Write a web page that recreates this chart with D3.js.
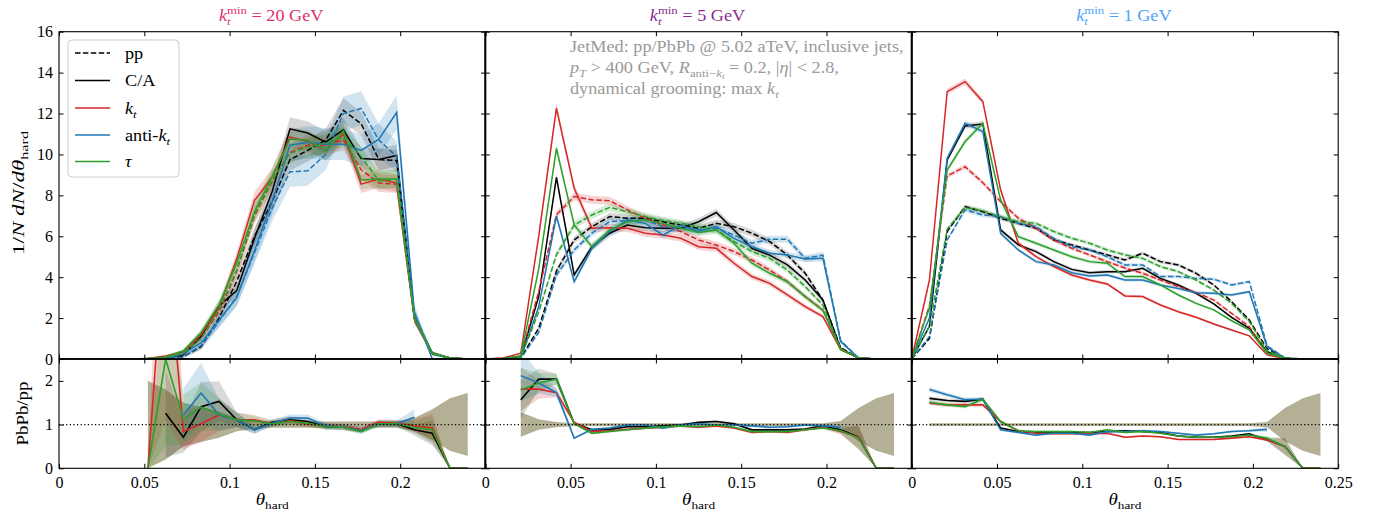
<!DOCTYPE html>
<html>
<head>
<meta charset="utf-8">
<script src="https://cdn.jsdelivr.net/npm/d3@7"></script>
<style>
  body { margin: 0; background: #fff; }
  text { font-family: "Liberation Serif", "Times New Roman", serif; white-space: pre; }
</style>
</head>
<body>
<svg id="chart" width="1378" height="517"></svg>
<script>
// bin positions in theta_hard
const theta = [0, 0.0104, 0.0208, 0.0313, 0.0417, 0.0521, 0.0625, 0.0729, 0.0833, 0.0938, 0.1042, 0.1146, 0.125,
  0.1354, 0.1458, 0.1563, 0.1667, 0.1771, 0.1875, 0.1979, 0.2083, 0.2188, 0.2292, 0.2396, 0.25];

const algoNames = ["C/A", "k_t", "anti-k_t", "tau"];
const algoColors = ["#000000", "#d62728", "#1f77b4", "#2ca02c"];
const ktMinLabels = ["20", "5", "1"];
const ktMinColors = ["#e0306a", "#8b2a90", "#4da3f7"];
const xTicks = [0, 0.05, 0.1, 0.15, 0.2, 0.25];
const yTicksTop = [0, 2, 4, 6, 8, 10, 12, 14, 16];
const yTicksRatio = [0, 1, 2];

// ---- k_t^min = 20 GeV : distributions ----
const CA_pp_20   = [0,0,0,0,0,0.01,0.03,0.12,0.6,2.0,3.8,6.0,7.7,9.75,10.2,10.7,12.15,11.5,9.75,9.7,2.0,0.28,0.05,0,0];
const CA_PbPb_20 = [0,0,0,0,0,0.02,0.05,0.2,1.1,2.6,3.35,5.9,8.2,11.25,11.05,10.6,11.2,9.8,9.75,9.95,2.0,0.28,0.05,0,0];
const kt_pp_20   = [0,0,0,0,0,0.01,0.03,0.3,1.0,2.3,4.3,7.0,8.7,10.1,10.45,10.45,10.7,9.25,8.6,8.55,1.95,0.28,0.05,0,0];
const kt_PbPb_20 = [0,0,0,0,0,0.03,0.15,0.35,1.2,2.5,4.9,7.75,8.9,10.85,10.65,10.2,11.0,8.55,8.8,8.6,1.95,0.28,0.05,0,0];
const akt_pp_20  = [0,0,0,0,0,0.01,0.02,0.1,0.65,1.85,3.05,5.2,7.4,9.15,9.2,10.0,12.0,12.25,10.7,9.9,2.2,0.25,0.05,0,0];
const akt_PbPb_20= [0,0,0,0,0,0.01,0.03,0.25,0.8,1.9,3.0,5.3,7.7,10.45,10.6,10.5,10.5,10.2,10.75,12.05,2.3,0,0,0,0];
const tau_pp_20  = [0,0,0,0,0,0.01,0.05,0.3,1.0,2.4,4.35,7.1,8.75,10.05,10.35,10.55,10.85,9.9,8.7,8.8,2.0,0.28,0.05,0,0];
const tau_PbPb_20= [0,0,0,0,0,0.02,0.1,0.4,1.3,2.65,4.7,7.2,8.9,10.75,10.7,10.2,11.15,8.75,8.8,8.8,2.0,0.28,0.05,0,0];

// ---- k_t^min = 5 GeV ----
const CA_pp_5    = [0,0,0.06,1.5,4.3,5.82,6.47,6.96,6.88,6.88,6.71,6.55,6.39,6.63,6.47,6.15,5.74,5.08,4.19,2.88,0.55,0.05,0,0,0];
const CA_PbPb_5  = [0,0,0.1,3.05,8.88,4.11,5.49,6.15,6.55,6.42,6.39,6.39,6.71,7.16,6.31,5.41,5.08,4.6,3.86,2.88,0.5,0.05,0,0,0];
const kt_pp_5    = [0,0.03,0.15,3.3,7.05,7.94,7.78,7.74,7.29,6.88,6.55,6.23,5.82,5.57,5.25,4.84,4.35,3.78,3.05,2.4,0.5,0.05,0,0,0];
const kt_PbPb_5  = [0,0.05,0.28,6.0,12.26,8.35,6.39,6.42,6.39,6.15,6.06,5.9,5.49,5.41,4.68,4.03,3.7,3.13,2.56,2.07,0.45,0.05,0,0,0];
const akt_pp_5   = [0,0.01,0.03,1.3,4.1,5.33,6.15,6.71,6.77,6.8,6.47,6.39,6.31,6.39,6.06,5.66,5.85,5.85,4.92,5.08,0.9,0.05,0,0,0];
const akt_PbPb_5 = [0,0.01,0.05,2.56,6.99,3.78,5.41,6.23,6.8,6.63,6.06,6.55,6.23,6.47,5.9,5.49,5.17,5.08,4.89,4.92,0.85,0.05,0,0,0];
const tau_pp_5   = [0,0.01,0.08,2.3,5.1,6.55,7.04,7.41,7.2,6.96,6.77,6.63,6.47,6.31,5.74,5.25,4.92,4.35,3.54,2.64,0.5,0.05,0,0,0];
const tau_PbPb_5 = [0,0.02,0.15,4.4,10.3,6.55,5.49,6.31,6.71,6.8,6.63,6.39,6.18,6.31,5.66,4.68,4.19,3.78,3.05,2.37,0.45,0.05,0,0,0];

// ---- k_t^min = 1 GeV ----
const CA_pp_1    = [0,1.0,6.23,7.45,7.2,6.88,6.63,6.39,5.82,5.58,5.33,5.09,4.84,5.17,4.76,4.6,4.19,3.62,2.8,1.91,0.5,0.05,0,0,0];
const CA_PbPb_1  = [0,1.6,9.73,11.39,11.49,6.31,5.58,5.25,4.76,4.38,4.22,4.27,4.27,4.43,3.94,3.62,3.21,2.69,2.04,1.5,0.36,0.03,0,0,0];
const kt_pp_1    = [0,2.6,8.95,9.4,8.62,7.7,6.88,6.4,5.82,5.41,5.09,4.76,4.45,4.19,3.86,3.54,3.25,2.88,2.23,1.58,0.3,0.03,0,0,0];
const kt_PbPb_1  = [0,3.86,13.07,13.56,12.58,8.27,5.66,5.0,4.52,4.11,3.86,3.67,3.08,3.05,2.64,2.31,2.04,1.71,1.42,1.13,0.2,0.02,0,0,0];
const akt_pp_1   = [0,1.1,5.82,7.29,7.04,6.96,6.63,6.47,5.9,5.49,5.33,5.0,4.6,4.6,4.03,4.03,3.94,3.9,3.62,3.78,0.65,0.05,0,0,0];
const akt_PbPb_1 = [0,2.0,9.81,11.52,11.12,6.14,5.33,4.76,4.6,4.22,4.06,4.11,3.86,3.86,3.62,3.45,3.24,3.21,3.13,3.29,0.6,0.03,0,0,0];
const tau_pp_1   = [0,1.6,6.35,7.4,7.25,6.96,6.72,6.63,6.23,5.9,5.66,5.33,5.09,4.92,4.52,4.27,3.86,3.37,2.72,1.83,0.4,0.05,0,0,0];
const tau_PbPb_1 = [0,2.5,9.24,10.63,11.52,7.78,5.98,5.66,5.33,5.0,4.76,4.68,4.03,4.03,3.62,3.13,2.72,2.4,1.87,1.42,0.28,0.03,0,0,0];

// ---- PbPb/pp ratios ----
const N = null;
const CA_ratio_20  = [N,N,N,N,N,N,1.26,0.71,1.41,1.53,1.11,0.88,1.05,1.11,1.07,0.95,0.94,0.88,1.02,1.02,0.88,0.80,0,0,N];
const kt_ratio_20  = [N,N,N,N,N,0,5.5,0.84,1.02,1.22,1.11,1.11,1.02,1.09,1.01,0.97,0.95,0.88,1.05,1.03,0.97,0.92,0,0,N];
const akt_ratio_20 = [N,N,N,N,N,N,N,1.22,1.72,1.22,1.11,0.88,1.03,1.15,1.15,0.97,0.94,0.86,1.02,1.02,1.17,N,N,N,N];
const tau_ratio_20 = [N,N,N,N,N,0,2.5,1.12,1.4,1.24,1.11,1.08,1.02,1.07,1.03,0.95,0.94,0.84,1.02,1.02,0.94,0.88,0,0,N];

const CA_ratio_5  = [N,N,1.57,2.04,2.04,1.03,0.88,0.89,0.95,0.95,0.97,0.99,1.05,1.07,1.02,0.88,0.88,0.88,0.9,0.97,0.88,0.71,0,0,N];
const kt_ratio_5  = [N,N,1.81,1.81,1.73,1.05,0.84,0.86,0.89,0.92,0.94,0.97,0.94,0.97,0.92,0.82,0.84,0.82,0.88,0.94,0.84,0.71,0,0,N];
const akt_ratio_5 = [N,N,2.12,1.95,1.73,0.69,0.89,0.92,0.99,0.99,0.92,0.99,1.02,0.99,0.99,0.97,0.94,0.95,0.99,0.97,0.94,N,N,N,N];
const tau_ratio_5 = [N,N,1.79,1.95,2.04,1.02,0.8,0.84,0.88,0.92,0.95,0.97,0.95,0.99,0.94,0.84,0.84,0.84,0.88,0.92,0.86,0.69,0,0,N];

const CA_ratio_1  = [N,1.6,1.55,1.53,1.58,0.92,0.84,0.82,0.82,0.82,0.82,0.84,0.86,0.84,0.82,0.74,0.71,0.71,0.74,0.79,0.65,0.5,0,0,N];
const kt_ratio_1  = [N,1.49,1.45,1.45,1.45,1.07,0.86,0.8,0.79,0.79,0.79,0.8,0.71,0.74,0.72,0.66,0.66,0.66,0.69,0.72,0.65,0.5,0,0,N];
const akt_ratio_1 = [N,1.8,1.68,1.57,1.58,0.88,0.82,0.76,0.8,0.8,0.76,0.84,0.84,0.86,0.84,0.8,0.76,0.79,0.84,0.86,0.89,N,N,N,N];
const tau_ratio_1 = [N,1.51,1.45,1.41,1.58,1.07,0.86,0.84,0.84,0.84,0.82,0.88,0.82,0.84,0.8,0.74,0.71,0.71,0.72,0.76,0.69,0.5,0,0,N];

// relative statistical uncertainty of pp (half-width of band around 1)
const ppBand_20 = [N,N,N,N,N,1.0,0.8,0.5,0.4,0.3,0.15,0.1,0.07,0.07,0.07,0.07,0.07,0.07,0.07,0.07,0.15,0.35,0.6,0.72,N];
const ppBand_5  = [N,N,0.28,0.12,0.06,0.03,0.03,0.03,0.03,0.03,0.03,0.03,0.03,0.03,0.03,0.03,0.03,0.03,0.03,0.03,0.08,0.38,0.6,0.72,N];
const ppBand_1  = [N,0.03,0.03,0.03,0.03,0.03,0.03,0.03,0.03,0.03,0.03,0.03,0.03,0.03,0.03,0.03,0.03,0.03,0.03,0.03,0.06,0.38,0.6,0.72,N];

// statistical error scale for the distributions (half-width = scale * sqrt(value)), per algorithm
const errScale_20 = [0.17, 0.15, 0.24, 0.15];
const errScale_5  = [0.07, 0.07, 0.07, 0.07];
const errScale_1  = [0.04, 0.04, 0.04, 0.04];

const panels = [
  { pp: [CA_pp_20, kt_pp_20, akt_pp_20, tau_pp_20], PbPb: [CA_PbPb_20, kt_PbPb_20, akt_PbPb_20, tau_PbPb_20],
    ratio: [CA_ratio_20, kt_ratio_20, akt_ratio_20, tau_ratio_20], band: ppBand_20, err: errScale_20 },
  { pp: [CA_pp_5, kt_pp_5, akt_pp_5, tau_pp_5], PbPb: [CA_PbPb_5, kt_PbPb_5, akt_PbPb_5, tau_PbPb_5],
    ratio: [CA_ratio_5, kt_ratio_5, akt_ratio_5, tau_ratio_5], band: ppBand_5, err: errScale_5 },
  { pp: [CA_pp_1, kt_pp_1, akt_pp_1, tau_pp_1], PbPb: [CA_PbPb_1, kt_PbPb_1, akt_PbPb_1, tau_PbPb_1],
    ratio: [CA_ratio_1, kt_ratio_1, akt_ratio_1, tau_ratio_1], band: ppBand_1, err: errScale_1 }
];

// ---------------- layout ----------------
const svg = d3.select("#chart");
const FS = 16;
const SX = 1.14;           // horizontal stretch for the serif labels
const X0 = [59, 485.3, 911.7];
const W = 426.5;
const TOP = [31.7, 359];
const RAT = [359, 468.3];
const defs = svg.append("defs");

// rich text: runs of plain/italic text with sub/superscripts; optional target width
function rich(parent, runs, fs, color, targetWidth) {
  const outer = parent.append("g");
  const g = outer.append("g");
  let cx = 0, lastStart = 0;
  runs.forEach(r => {
    if (r.gap) { cx += r.gap; return; }
    let size = fs, dy = 0;
    if (r.pos === "sub") { size = fs * 0.7; dy = fs * 0.25; }
    if (r.pos === "sup") { size = fs * 0.7; dy = -fs * 0.42; }
    if (r.pos === "subsub") { size = fs * 0.5; dy = fs * 0.38; }
    const sx = r.stack ? lastStart : cx;
    const t = g.append("text").attr("x", sx).attr("y", dy)
      .attr("font-size", size).attr("font-style", r.it ? "italic" : "normal")
      .attr("fill", color).text(r.t);
    const w = t.node().getComputedTextLength();
    cx = r.stack ? Math.max(cx, sx + w) : sx + w;
    lastStart = sx;
  });
  const s = targetWidth ? targetWidth / cx : SX;
  g.attr("transform", `scale(${s},1)`);
  return { g: outer, width: cx * s };
}

function sty(sel) {
  sel.attr("font-family", null).attr("font-size", null);
  sel.select(".domain").remove();
  sel.selectAll("line").attr("stroke", "#000").attr("stroke-width", 1);
  sel.selectAll("text").attr("font-size", FS).attr("fill", "#000");
}

const fmtX = (k) => d => (k < 2 && d === 0.25) ? "" : String(+d.toFixed(2));

panels.forEach((p, k) => {
  const x = d3.scaleLinear().domain([0, 0.25]).range([X0[k], X0[k] + W]);
  const yT = d3.scaleLinear().domain([0, 16]).range([TOP[1], TOP[0]]);
  const yR = d3.scaleLinear().domain([0, 2.5]).range([RAT[1], RAT[0]]);

  defs.append("clipPath").attr("id", "clipT" + k).append("rect")
    .attr("x", X0[k]).attr("y", TOP[0]).attr("width", W).attr("height", TOP[1] - TOP[0]);
  defs.append("clipPath").attr("id", "clipR" + k).append("rect")
    .attr("x", X0[k]).attr("y", RAT[0]).attr("width", W).attr("height", RAT[1] - RAT[0]);

  // ---- main distributions ----
  const gT = svg.append("g").attr("clip-path", `url(#clipT${k})`);
  const bandOf = (j) => d3.area()
    .x((d, i) => x(theta[i]))
    .y0(d => yT(d - p.err[j] * Math.sqrt(d)))
    .y1(d => yT(d + p.err[j] * Math.sqrt(d)));
  p.pp.forEach((vals, j) => {
    [vals, p.PbPb[j]].forEach(v => {
      gT.append("path").datum(v).attr("d", bandOf(j))
        .attr("fill", algoColors[j]).attr("fill-opacity", j === 0 ? 0.16 : 0.2).attr("stroke", "none");
    });
  });
  const lineT = d3.line().x((d, i) => x(theta[i])).y(d => yT(d));
  p.pp.forEach((vals, j) => {
    gT.append("path").datum(vals).attr("d", lineT).attr("fill", "none")
      .attr("stroke", algoColors[j]).attr("stroke-width", 1.5).attr("stroke-dasharray", "5.5,2.4");
    gT.append("path").datum(p.PbPb[j]).attr("d", lineT).attr("fill", "none")
      .attr("stroke", algoColors[j]).attr("stroke-width", 1.5);
  });

  // ---- ratios ----
  const gR = svg.append("g").attr("clip-path", `url(#clipR${k})`);
  const ppArea = d3.area().defined(d => d != null)
    .x((d, i) => x(theta[i])).y0(d => yR(1 - d)).y1(d => yR(1 + d));
  gR.append("path").datum(p.band).attr("d", ppArea)
    .attr("fill", "#9a9572").attr("fill-opacity", 0.75);
  p.ratio.forEach((r, j) => {
    const a = d3.area().defined((d, i) => d != null && p.band[i] != null)
      .x((d, i) => x(theta[i]))
      .y0((d, i) => yR(d - p.band[i] * d)).y1((d, i) => yR(d + p.band[i] * d));
    gR.append("path").datum(r).attr("d", a)
      .attr("fill", algoColors[j]).attr("fill-opacity", j === 0 ? 0.15 : 0.2);
  });
  const lineR = d3.line().defined(d => d != null).x((d, i) => x(theta[i])).y(d => yR(d));
  p.ratio.forEach((r, j) => {
    gR.append("path").datum(r).attr("d", lineR).attr("fill", "none")
      .attr("stroke", algoColors[j]).attr("stroke-width", 1.6);
  });
  svg.append("line").attr("x1", X0[k]).attr("x2", X0[k] + W).attr("y1", yR(1)).attr("y2", yR(1))
    .attr("stroke", "#000").attr("stroke-width", 1.1).attr("stroke-dasharray", "1.2,2.4");

  // ---- axes (inward ticks on all sides) ----
  const tk = -4.5;
  svg.append("g").attr("transform", `translate(0,${TOP[1]})`)
    .call(d3.axisBottom(x).tickValues(xTicks).tickSize(tk).tickSizeOuter(0).tickFormat("")).call(sty);
  svg.append("g").attr("transform", `translate(0,${TOP[0]})`)
    .call(d3.axisTop(x).tickValues(xTicks).tickSize(tk).tickSizeOuter(0).tickFormat("")).call(sty);
  svg.append("g").attr("transform", `translate(0,${RAT[0]})`)
    .call(d3.axisTop(x).tickValues(xTicks).tickSize(tk).tickSizeOuter(0).tickFormat("")).call(sty);
  svg.append("g").attr("transform", `translate(0,${RAT[1]})`)
    .call(d3.axisBottom(x).tickValues(xTicks).tickSize(tk).tickSizeOuter(0).tickPadding(8).tickFormat(fmtX(k))).call(sty);

  svg.append("g").attr("transform", `translate(${X0[k]},0)`)
    .call(d3.axisLeft(yT).tickValues(yTicksTop).tickSize(tk).tickSizeOuter(0).tickPadding(6)
      .tickFormat(k === 0 ? d3.format("d") : "")).call(sty);
  svg.append("g").attr("transform", `translate(${X0[k] + W},0)`)
    .call(d3.axisRight(yT).tickValues(yTicksTop).tickSize(tk).tickSizeOuter(0).tickFormat("")).call(sty);
  svg.append("g").attr("transform", `translate(${X0[k]},0)`)
    .call(d3.axisLeft(yR).tickValues(yTicksRatio).tickSize(tk).tickSizeOuter(0).tickPadding(6)
      .tickFormat(k === 0 ? d3.format("d") : "")).call(sty);
  svg.append("g").attr("transform", `translate(${X0[k] + W},0)`)
    .call(d3.axisRight(yR).tickValues(yTicksRatio).tickSize(tk).tickSizeOuter(0).tickFormat("")).call(sty);

  // frames
  svg.append("rect").attr("x", X0[k]).attr("y", TOP[0]).attr("width", W).attr("height", TOP[1] - TOP[0])
    .attr("fill", "none").attr("stroke", "#000").attr("stroke-width", 1.1);
  svg.append("rect").attr("x", X0[k]).attr("y", RAT[0]).attr("width", W).attr("height", RAT[1] - RAT[0])
    .attr("fill", "none").attr("stroke", "#000").attr("stroke-width", 1.1);

  // panel title
  const tt = rich(svg, [{ t: "k", it: 1 }, { t: "t", it: 1, pos: "sub" }, { t: "min", pos: "sup", stack: 1 },
    { gap: 4 }, { t: "= " + ktMinLabels[k] + " GeV" }], FS, ktMinColors[k]);
  tt.g.attr("transform", `translate(${X0[k] + W / 2 - tt.width / 2 - 1},21)`);

  // x label
  const xl = rich(svg, [{ t: "θ", it: 1 }, { t: "hard", pos: "sub" }], FS, "#000", 33);
  xl.g.attr("transform", `translate(${X0[k] + W / 2 - xl.width / 2},505)`);
});

// shared inner spines
[X0[1], X0[2]].forEach(xx => {
  svg.append("line").attr("x1", xx).attr("x2", xx).attr("y1", TOP[0]).attr("y2", RAT[1])
    .attr("stroke", "#000").attr("stroke-width", 2);
});
svg.append("line").attr("x1", X0[0]).attr("x2", X0[2] + W).attr("y1", TOP[1]).attr("y2", TOP[1])
  .attr("stroke", "#000").attr("stroke-width", 1.4);

// y labels
const yl = rich(svg, [{ t: "1/" }, { t: "N", it: 1 }, { gap: 4 }, { t: "dN", it: 1 }, { t: "/" }, { t: "dθ", it: 1 },
  { t: "hard", pos: "sub" }], FS, "#000", 124);
yl.g.attr("transform", `translate(24,${193 + yl.width / 2}) rotate(-90)`);
const yl2 = rich(svg, [{ t: "PbPb/pp" }], FS, "#000", 64);
yl2.g.attr("transform", `translate(28,${413.5 + yl2.width / 2}) rotate(-90)`);

// legend
const lg = svg.append("g");
lg.append("rect").attr("x", 68).attr("y", 40).attr("width", 111).attr("height", 137).attr("rx", 4)
  .attr("fill", "#fff").attr("fill-opacity", 0.85).attr("stroke", "#cccccc").attr("stroke-width", 1);
const legendRows = [
  { color: "#000", dash: "5.5,2.4", runs: [{ t: "pp" }] },
  { color: algoColors[0], runs: [{ t: algoNames[0] }] },
  { color: algoColors[1], runs: [{ t: "k", it: 1 }, { t: "t", it: 1, pos: "sub" }] },
  { color: algoColors[2], runs: [{ t: "anti-" }, { t: "k", it: 1 }, { t: "t", it: 1, pos: "sub" }] },
  { color: algoColors[3], runs: [{ t: "τ", it: 1 }] }
];
const rowY = [53, 80.5, 108, 135, 161.5];
legendRows.forEach((r, i) => {
  lg.append("line").attr("x1", 75).attr("x2", 110).attr("y1", rowY[i]).attr("y2", rowY[i])
    .attr("stroke", r.color).attr("stroke-width", 1.5).attr("stroke-dasharray", r.dash || null);
  const t = rich(lg, r.runs, FS, "#000");
  t.g.attr("transform", `translate(125,${rowY[i] + 5.5})`);
});

// annotation
const annColor = "#9a9a9a";
const a1 = rich(svg, [{ t: "JetMed: pp/PbPb @ 5.02 aTeV, inclusive jets," }], FS, annColor);
a1.g.attr("transform", "translate(570,52)");
const a2 = rich(svg, [{ t: "p", it: 1 }, { t: "T", it: 1, pos: "sub" }, { t: " > 400 GeV, " }, { t: "R", it: 1 },
  { t: "anti−", pos: "sub" }, { t: "k", it: 1, pos: "sub" }, { t: "t", it: 1, pos: "subsub" },
  { t: " = 0.2, |" }, { t: "η", it: 1 }, { t: "| < 2.8," }], FS, annColor);
a2.g.attr("transform", "translate(570,73)");
const a3 = rich(svg, [{ t: "dynamical grooming: max " }, { t: "k", it: 1 }, { t: "t", it: 1, pos: "sub" }], FS, annColor);
a3.g.attr("transform", "translate(570,94)");
</script>
</body>
</html>
